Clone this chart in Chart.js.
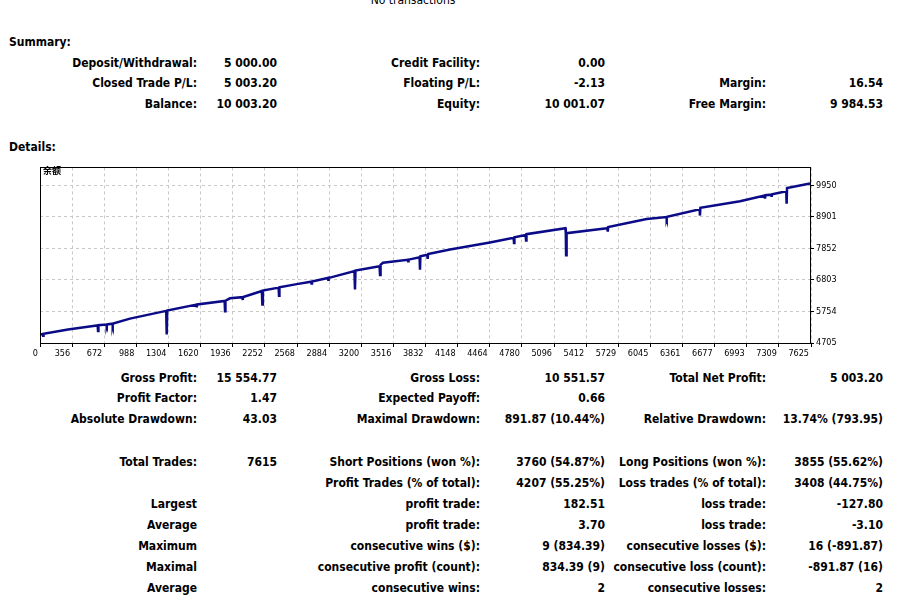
<!DOCTYPE html>
<html>
<head>
<meta charset="utf-8">
<script src="https://cdn.jsdelivr.net/npm/chart.js@4.4.1/dist/chart.umd.min.js"></script>
<style>
  body { margin: 0; background: #fff; }
  #page { position: relative; width: 912px; height: 598px; overflow: hidden;
          font: bold 12px/14px 'DejaVu Sans Condensed', 'DejaVu Sans', sans-serif;
          font-stretch: condensed; color: #000; }
  .r { position: absolute; left: 0; width: 912px; height: 14px; white-space: nowrap; }
  .r span { position: absolute; top: 0; }
  .a { right: 715px; } .b { right: 635px; }
  .c { right: 432px; } .d { right: 307px; }
  .e { right: 146px; } .f { right: 29px; }
  .h { left: 9px; }
  #chartBox { position: absolute; left: 0; top: 160px; width: 912px; height: 200px; }
  #tag { position: absolute; left: 43px; top: 165px; font: bold 9px/12px 'Noto Sans CJK SC', sans-serif; }
  #none { position: absolute; left: 413px; top: -7px; transform: translateX(-50%); font-weight: normal; }
</style>
</head>
<body>
<div id="page">
  <div id="none">No transactions</div>

  <div class="r" style="top:35px"><span class="h">Summary:</span></div>
  <div class="r" style="top:56px"><span class="a">Deposit/Withdrawal:</span><span class="b">5 000.00</span><span class="c">Credit Facility:</span><span class="d">0.00</span></div>
  <div class="r" style="top:76px"><span class="a">Closed Trade P/L:</span><span class="b">5 003.20</span><span class="c">Floating P/L:</span><span class="d">-2.13</span><span class="e">Margin:</span><span class="f">16.54</span></div>
  <div class="r" style="top:97px"><span class="a">Balance:</span><span class="b">10 003.20</span><span class="c">Equity:</span><span class="d">10 001.07</span><span class="e">Free Margin:</span><span class="f">9 984.53</span></div>
  <div class="r" style="top:140px"><span class="h">Details:</span></div>

  <div id="chartBox"><canvas id="balanceChart" width="912" height="200"></canvas></div>
  <div id="tag">余额</div>

  <div class="r" style="top:371px"><span class="a">Gross Profit:</span><span class="b">15 554.77</span><span class="c">Gross Loss:</span><span class="d">10 551.57</span><span class="e">Total Net Profit:</span><span class="f">5 003.20</span></div>
  <div class="r" style="top:391px"><span class="a">Profit Factor:</span><span class="b">1.47</span><span class="c">Expected Payoff:</span><span class="d">0.66</span></div>
  <div class="r" style="top:412px"><span class="a">Absolute Drawdown:</span><span class="b">43.03</span><span class="c">Maximal Drawdown:</span><span class="d">891.87 (10.44%)</span><span class="e">Relative Drawdown:</span><span class="f">13.74% (793.95)</span></div>

  <div class="r" style="top:455px"><span class="a">Total Trades:</span><span class="b">7615</span><span class="c">Short Positions (won %):</span><span class="d">3760 (54.87%)</span><span class="e">Long Positions (won %):</span><span class="f">3855 (55.62%)</span></div>
  <div class="r" style="top:476px"><span class="c">Profit Trades (% of total):</span><span class="d">4207 (55.25%)</span><span class="e">Loss trades (% of total):</span><span class="f">3408 (44.75%)</span></div>
  <div class="r" style="top:497px"><span class="a">Largest</span><span class="c">profit trade:</span><span class="d">182.51</span><span class="e">loss trade:</span><span class="f">-127.80</span></div>
  <div class="r" style="top:518px"><span class="a">Average</span><span class="c">profit trade:</span><span class="d">3.70</span><span class="e">loss trade:</span><span class="f">-3.10</span></div>
  <div class="r" style="top:539px"><span class="a">Maximum</span><span class="c">consecutive wins ($):</span><span class="d">9 (834.39)</span><span class="e">consecutive losses ($):</span><span class="f">16 (-891.87)</span></div>
  <div class="r" style="top:560px"><span class="a">Maximal</span><span class="c">consecutive profit (count):</span><span class="d">834.39 (9)</span><span class="e">consecutive loss (count):</span><span class="f">-891.87 (16)</span></div>
  <div class="r" style="top:581px"><span class="a">Average</span><span class="c">consecutive wins:</span><span class="d">2</span><span class="e">consecutive losses:</span><span class="f">2</span></div>
</div>

<script>
// x axis labels as printed under the graph (trade number)
var xTickLabels = ['0', '356', '672', '988', '1304', '1620', '1936', '2252', '2568', '2884', '3200', '3516',
    '3832', '4148', '4464', '4780', '5096', '5412', '5729', '6045', '6361', '6677', '6993', '7309', '7625'];
var xMax = 7625;

// balance levels on the right axis
var yTickValues = [4705, 5754, 6803, 7852, 8901, 9950];

// balance curve (trade #, balance)
var tradeNo = [0, 25, 30, 35, 277, 561, 570, 574, 578, 655, 660, 664, 715, 719, 723, 890,
    1236, 1248, 1252, 1254, 1258, 1545, 1550, 1555, 1826, 1830, 1834, 1879, 2000, 2005, 2010,
    2194, 2199, 2204, 2360, 2364, 2368, 2539, 2680, 2685, 2690, 2845, 2850, 2855, 2868,
    3110, 3115, 3120, 3358, 3363, 3368, 3392, 3635, 3640, 3645, 3754, 3758, 3762, 3830, 3834, 3838,
    4055, 4450, 4684, 4688, 4692, 4803, 4807, 4811, 5196, 5200, 5203, 5208, 5605, 5610, 5615, 5620,
    6000, 6195, 6198, 6202, 6523, 6527, 6531, 6923, 7166, 7170, 7174, 7232, 7236, 7240,
    7380, 7384, 7388, 7615];
var balance = [5000, 5005, 4950, 5008, 5154, 5290, 5292, 5108, 5295, 5318, 5272, 5322, 5345, 5290, 5350, 5515,
    5764, 5768, 5200, 4990, 5785, 5980, 5895, 5985, 6100, 5764, 6110, 6190, 6228, 6137, 6235,
    6435, 5983, 6445, 6545, 6278, 6555, 6662, 6740, 6680, 6745, 6868, 6810, 6872, 6878,
    7095, 6485, 7110, 7258, 6967, 7300, 7370, 7470, 7420, 7475, 7556, 7140, 7590, 7640, 7500, 7660,
    7809, 8048, 8200, 8026, 8215, 8290, 8114, 8321, 8518, 8354, 7622, 8354, 8518, 8525, 8409, 8560,
    8825, 8890, 8850, 8900, 9150, 8940, 9200, 9415, 9605, 9501, 9615, 9635, 9566, 9645,
    9745, 9337, 9851, 10003];

var tickFont = { family: "'DejaVu Sans Condensed', 'DejaVu Sans', sans-serif", size: 9 };

// black frame round the plot area
var frame = {
    id: 'frame',
    afterDatasetsDraw: function (chart) {
        var a = chart.chartArea, ctx = chart.ctx;
        ctx.save();
        ctx.strokeStyle = '#000';
        ctx.lineWidth = 1;
        ctx.strokeRect(Math.round(a.left) + 0.5, Math.round(a.top) + 0.5,
            Math.round(a.right - a.left) - 1, Math.round(a.bottom - a.top) - 1);
        ctx.restore();
    }
};

var balanceChart = new Chart(document.getElementById('balanceChart').getContext('2d'), {
    type: 'line',
    data: {
        datasets: [{
            data: tradeNo.map(function (t, i) { return { x: t, y: balance[i] }; }),
            borderColor: '#0b0b87',
            borderWidth: 2.5,
            pointRadius: 0,
            tension: 0
        }]
    },
    options: {
        responsive: false,
        animation: false,
        layout: { padding: { left: 40, top: 5, right: 0, bottom: 0 } },
        plugins: { legend: { display: false }, tooltip: { enabled: false } },
        scales: {
            x: {
                type: 'linear',
                min: 0,
                max: xMax,
                afterBuildTicks: function (s) {
                    s.ticks = xTickLabels.map(function (l, i) { return { value: i * xMax / 24 }; });
                },
                afterFit: function (s) { s.height = 16; },
                ticks: {
                    autoSkip: false,
                    maxRotation: 0,
                    align: 'end',
                    labelOffset: -2,
                    padding: 1,
                    color: '#000',
                    font: tickFont,
                    callback: function (v, i) { return xTickLabels[i]; }
                },
                grid: { color: '#c8c8c8', tickColor: '#000', tickLength: 3, tickBorderDash: [] },
                border: { display: false, dash: [3, 3] }
            },
            y: {
                position: 'right',
                min: 4672,
                max: 10540,
                afterBuildTicks: function (s) {
                    s.ticks = yTickValues.map(function (v) { return { value: v }; });
                },
                afterFit: function (s) { s.width = 101; },
                ticks: {
                    padding: 2,
                    color: '#000',
                    font: tickFont,
                    callback: function (v) { return String(v); }
                },
                grid: { color: '#c8c8c8', tickColor: '#000', tickLength: 3, tickBorderDash: [] },
                border: { display: false, dash: [3, 3] }
            }
        }
    },
    plugins: [frame]
});
</script>
</body>
</html>
